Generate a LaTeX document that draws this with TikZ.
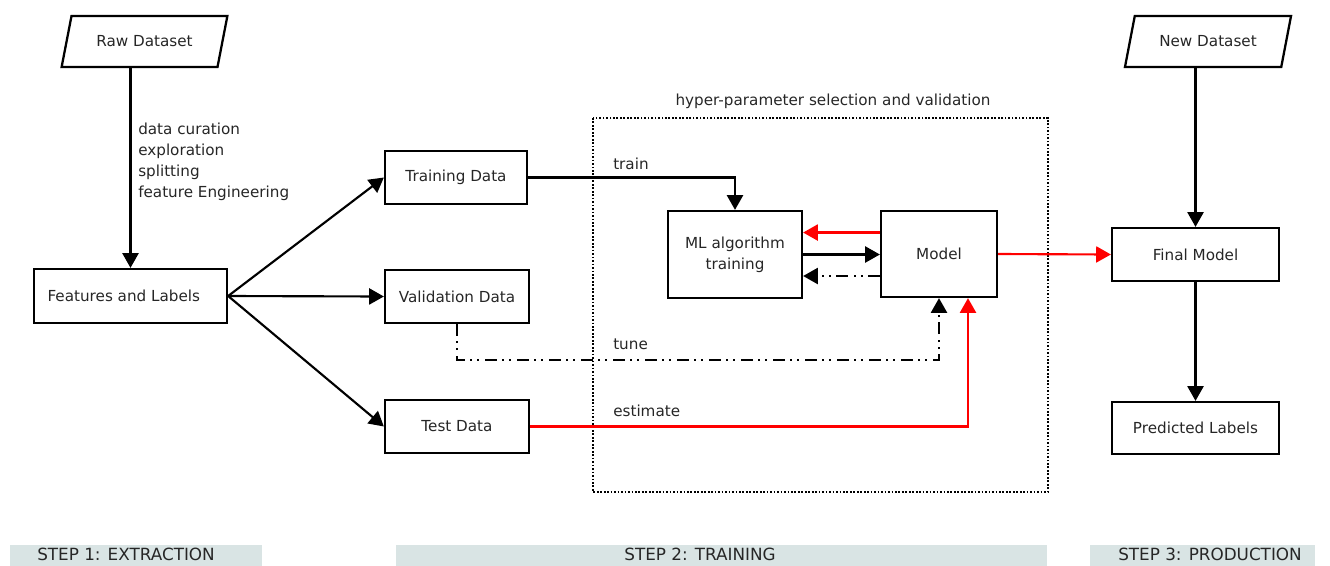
\documentclass[tikz,border=0pt]{standalone}
\usepackage{fontspec}
\setmainfont{DejaVu Sans}
\usetikzlibrary{arrows.meta,shapes.geometric}
\definecolor{barcol}{RGB}{217,228,228}
\begin{document}
\begin{tikzpicture}[x=0.75pt,y=-0.75pt,
  font=\fontsize{11.4}{15.75}\selectfont,
  box/.style={draw,line width=1.7pt,rectangle,inner sep=0pt,text=black!85},
  para/.style={draw,line width=1.7pt,trapezium,trapezium left angle=60,trapezium right angle=120,trapezium stretches=true,minimum width=125.25pt,minimum height=38.25pt,inner sep=0pt,text=black!85},
  conn/.style={line width=1.6pt,-{Triangle[length=11pt,width=12pt]}},
  rconn/.style={conn,red},
  ddot/.style={line width=1.6pt,dash pattern=on 9pt off 3.75pt on 1.5pt off 3.75pt on 1.5pt off 4.5pt},
  lbl/.style={anchor=west,inner sep=0pt,text=black!85},
  bartxt/.style={inner sep=0pt,text=black!85,font=\fontsize{12.6}{14}\selectfont}
]
\useasboundingbox (0,0) rectangle (1330,565);
\clip (0,0) rectangle (1330,565);

% step bars
\fill[barcol] (10,545) rectangle (262,570);
\fill[barcol] (396,545) rectangle (1047,570);
\fill[barcol] (1090,545) rectangle (1315,570);
\node[bartxt] (s1) at (126,554.5) {STEP 1: EXTRACTION};
\node[bartxt] (s2) at (700,554.5) {STEP 2: TRAINING};
\node[bartxt] (s3) at (1210,554.5) {STEP 3: PRODUCTION};

% dotted frame
\draw[line width=1.3pt,dash pattern=on 1.3pt off 1.3pt] (593,118) rectangle (1048,492);
\node[lbl,anchor=center] (hyp) at (833,101) {hyper-parameter selection and validation};

% nodes
\node[para] (raw) at (144.5,41.5) {Raw Dataset};
\node[box,minimum width=144.75pt,minimum height=40.5pt] (feat) at (130.5,296) {Features and Labels\hspace*{10pt}};
\node[box,minimum width=106.5pt,minimum height=39.75pt] (train) at (456,177.5) {Training Data};
\node[box,minimum width=108pt,minimum height=39.75pt] (valid) at (457,296.5) {Validation Data};
\node[box,minimum width=108pt,minimum height=39.75pt] (test) at (457,426.5) {Test Data};
\node[box,minimum width=100.5pt,minimum height=65.25pt,align=center] (ml) at (735,254.5) {ML algorithm\\training};
\node[box,minimum width=87pt,minimum height=64.5pt] (model) at (939,254) {Model};
\node[para] (new) at (1208,41.5) {New Dataset};
\node[box,minimum width=125.25pt,minimum height=39.75pt] (final) at (1195.5,254.5) {Final Model};
\node[box,minimum width=125.25pt,minimum height=39pt] (pred) at (1195.5,428) {Predicted Labels};

% labels
\node[lbl,align=left] (steps) at (138,161.5) {data curation\\exploration\\splitting\\feature Engineering};
\node[lbl] (ltrain) at (613,164) {train};
\node[lbl] (ltune) at (613,344) {tune};
\node[lbl] (lest) at (613,411) {estimate};

% connectors
\draw[conn] (raw.south -| feat.north) -- (feat.north);
\draw[conn] (feat.east) -- (train.west);
\draw[conn] (feat.east) -- (valid.west);
\draw[conn] (feat.east) -- (test.west);
\draw[conn] (train.east) -| (ml.north);
\draw[rconn] ([yshift=16.1pt]model.west) -- ([yshift=16.1pt]model.west -| ml.east);
\draw[conn] (ml.east) -- (ml.east -| model.west);
\draw[ddot,-{Triangle[length=11pt,width=12pt]}] ([yshift=-16.5pt]model.west) -- ([yshift=-16.5pt]model.west -| ml.east);
\draw[ddot,-{Triangle[length=11pt,width=12pt]}] (valid.south) -- ++(0,36) -| (model.south);
\draw[rconn] (test.east) -| ([xshift=21.75pt]model.south);
\draw[rconn] (model.east) -- (final.west);
\draw[conn] (new.south -| final.north) -- (final.north);
\draw[conn] (final.south) -- (pred.north);
\end{tikzpicture}
\end{document}
